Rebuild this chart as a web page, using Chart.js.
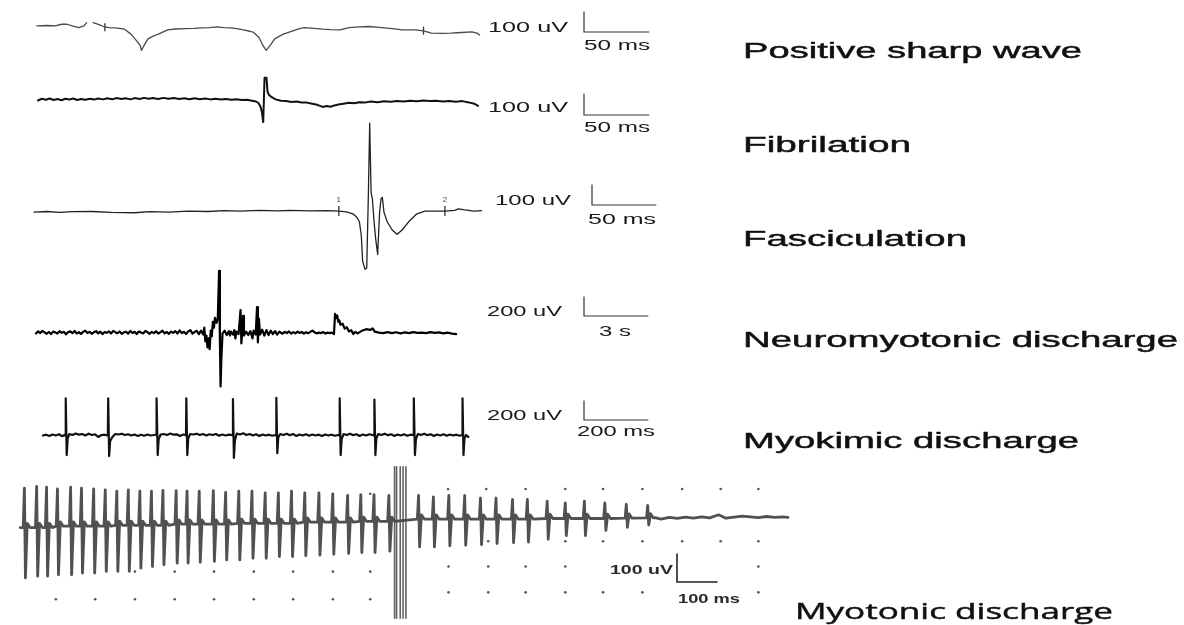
<!DOCTYPE html>
<html>
<head>
<meta charset="utf-8">
<script src="https://cdn.jsdelivr.net/npm/chart.js@4.4.1/dist/chart.umd.min.js"></script>
<style>
  html, body { margin: 0; padding: 0; background: #fff; }
  #wrap { width: 1184px; height: 625px; }
</style>
</head>
<body>
<div id="wrap"><canvas id="emg" width="1184" height="625"></canvas></div>
<script>
// ---- Data (time in ms unless noted, amplitude in uV) ----
const traceNames = ['Positive sharp wave', 'Fibrilation', 'Fasciculation',
  'Neuromyotonic discharge', 'Myokimic discharge', 'Myotonic discharge'];

// calibration bars: amplitude (uV) and time (ms, neuromyotonic in s)
const barAmp = [100, 100, 100, 200, 200, 100];
const barTime = [50, 50, 50, 3, 200, 100];
const barTimeText = ['50 ms', '50 ms', '50 ms', '3 s', '200 ms', '100 ms'];

// positive sharp wave, [ms, uV]
const pswTrace = [
  [0,0],[8,2],[14,0],[19,8],[23,8],[27,0],[32,-8],[36,0],[38,16],[40,null],
  [43,16],[48,5],[51,-3],[55,-8],[60,-10],[67,-16],[72,-40],[76,-70],[79,-95],[80,-119],
  [82,-95],[85,-63],[89,-50],[93,-40],[100,-19],[106,-15],[113,-13],[120,-12],[126,-10],
  [132,-8],[138,-5],[143,-8],[148,-10],[153,-13],[158,-19],[163,-26],[166,-32],[170,-56],
  [173,-95],[175.5,-119],[178.6,-95],[182,-63],[188.6,-40],[196,-24],[201,-13],[205,-8],
  [212,-12],[219,-16],[225,-18],[232,-19],[239,-8],[247,-5],[254,-3],[260,-6],[264,-8],
  [272,-13],[280,-19],[290,-19],[296,-24],[302,-35],[310,-36],[317,-35],[325,-32],
  [333,-29],[337,-35],[339,-44]
];
const pswMarks = [[52,-6],[296,-24]];

// fibrillation potential, [ms, uV]
const fibTrace = [
  [0,-5],[3,3],[6,-2],[9,4],[12,-3],[15,2],[18,-4],[21,3],[24,-1],[27,4],[30,-3],[33,2],
  [36,-2],[40,3],[43,-1],[46,4],[50,0],[53,5],[57,1],[60,6],[64,2],[67,5],[71,0],[74,6],
  [78,2],[81,7],[85,3],[88,6],[92,2],[96,7],[100,3],[104,6],[108,2],[112,5],[116,1],
  [120,5],[124,1],[128,4],[132,0],[136,3],[140,-1],[144,2],[148,-2],[152,1],[156,-3],
  [160,-2],[164,-6],[167,-10],[169,-18],[170.5,-35],[171.5,-60],[172.5,-105],[173.5,100],
  [175,100],[175.8,35],[177,20],[179,10],[182,0],[186,-6],[190,-8],[194,-12],[198,-10],
  [202,-14],[206,-15],[210,-20],[213,-24],[216,-30],[218,-35],[221,-31],[224,-34],
  [227,-28],[230,-24],[234,-20],[238,-16],[242,-18],[246,-13],[250,-15],[255,-10],
  [260,-13],[265,-9],[270,-11],[275,-7],[280,-10],[285,-6],[290,-9],[295,-5],[300,-8],
  [305,-6],[310,-10],[315,-7],[320,-11],[325,-8],[330,-14],[334,-20],[337,-30]
];

// fasciculation potential, [ms, uV]
const fascTrace = [
  [0,-5],[10,-2],[20,-6],[30,-3],[45,-2],[60,-6],[78,-8],[90,-3],[105,-5],[120,0],
  [135,-2],[148,2],[160,0],[175,3],[190,1],[199,3],[215,1],[228,2],[237,0],[243,-4],
  [248,-13],[251,-30],[253,-52],[254.5,-120],[255.5,-243],[257.4,-283],[258.7,-275],
  [260,90],[261,427],[262.1,90],[263.1,59],[264.4,-52],[265.6,-132],[267.2,-211],
  [268.7,-5],[269.8,59],[270.8,67],[272.1,-5],[274.6,-52],[278.5,-92],[282.3,-113],
  [286.2,-92],[291.3,-52],[297.7,-13],[304,0],[312,0],[319.5,0],[327,3],[330,11],
  [335,6],[342,0],[348,2]
];
const fascMarks = [[237,0],[319.5,0]];
const fascMarkText = ['1', '2'];

// neuromyotonic discharge, [s, uV]
const neuroTrace = [
  [0,-8],[0.1,12],[0.2,-5],[0.3,18],[0.4,3],[0.5,-12],[0.6,6],[0.7,-15],[0.8,10],[0.9,2],
  [1.0,-10],[1.1,14],[1.2,-3],[1.3,8],[1.4,-18],[1.5,5],[1.6,12],[1.7,-6],[1.8,16],[1.9,-9],
  [2.0,4],[2.1,-14],[2.2,9],[2.3,20],[2.4,-5],[2.5,7],[2.6,-12],[2.7,3],[2.8,15],[2.9,-8],
  [3.0,10],[3.1,-16],[3.2,6],[3.3,-2],[3.4,13],[3.5,-10],[3.6,18],[3.7,4],[3.8,-7],[3.9,11],
  [4.0,-13],[4.1,2],[4.2,9],[4.3,-11],[4.4,16],[4.5,-4],[4.6,8],[4.7,-15],[4.8,12],[4.9,0],
  [5.0,-9],[5.1,17],[5.2,5],[5.3,-12],[5.4,7],[5.5,-6],[5.6,14],[5.7,-10],[5.8,3],[5.9,19],
  [6.0,-8],[6.1,6],[6.2,-13],[6.3,10],[6.4,-3],[6.5,15],[6.6,-9],[6.7,22],[6.8,-5],[6.9,8],
  [7.0,-14],[7.1,12],[7.2,25],[7.3,-10],[7.4,6],[7.5,18],[7.6,-15],[7.7,20],
  [7.8,-20],[7.85,50],[7.9,-90],[7.95,-30],[8.0,-150],[8.05,-60],[8.1,-170],[8.15,20],
  [8.2,-40],[8.25,110],[8.3,50],[8.35,150],[8.42,100],[8.48,140],[8.54,630],[8.58,-100],
  [8.61,-550],[8.65,-250],[8.7,-10],[8.8,20],[8.9,-25],[9.0,15],[9.05,-30],[9.1,10],
  [9.2,-20],[9.25,25],[9.3,-60],[9.35,10],[9.45,-15],[9.54,230],[9.58,-110],[9.62,20],
  [9.66,170],[9.7,-30],[9.8,10],[9.9,-25],[10.0,15],[10.1,-60],[10.15,20],[10.25,-20],
  [10.31,260],[10.35,-100],[10.4,140],[10.45,-20],[10.55,30],[10.65,-30],[10.75,25],
  [10.85,-25],[10.95,20],[11.05,-15],[11.15,15],[11.25,-20],[11.35,10],[11.5,-12],
  [11.6,8],[11.7,-5],[11.8,12],[11.9,-10],[12.0,5],[12.1,-8],[12.2,10],[12.3,-4],
  [12.4,6],[12.5,-10],[12.6,3],[12.7,-6],[12.8,8],[12.9,20],[13.0,2],[13.1,-8],[13.2,0],
  [13.3,-5],[13.4,5],[13.5,-10],[13.6,0],[13.7,-5],[13.8,0],[13.9,-15],[13.95,190],
  [14.0,150],[14.05,175],[14.1,110],[14.15,125],[14.2,80],[14.3,90],[14.4,40],[14.5,55],
  [14.6,10],[14.7,25],[14.8,-15],[14.9,8],[15.0,-8],[15.1,5],[15.2,18],[15.4,35],[15.6,28],
  [15.7,42],[15.8,10],[16.0,0],[16.2,-5],[16.4,5],[16.6,-5],[16.8,3],[17.0,-8],[17.2,2],
  [17.4,-5],[17.6,5],[17.8,-3],[18.0,0],[18.2,-6],[18.4,4],[18.6,-3],[18.8,2],[19.0,-8],
  [19.2,0],[19.4,-10],[19.6,-15]
];

// myokymic discharge, [ms, uV]
const myokimicTrace = [
  [0,0],[10,8],[20,-5],[30,10],[40,0],[50,12],[60,-8],[67,5],
  [70,0],[71,380],[74,-200],[77,-30],[82,15],[92,5],[102,20],[112,8],[122,15],[132,0],
  [142,18],[152,5],[162,12],[172,-15],[182,5],[192,8],[200,0],
  [202,10],[203,380],[206,-210],[209,-60],[215,-20],[225,15],[235,10],[245,18],[255,5],
  [265,12],[275,0],[285,10],[295,-5],[305,8],[315,-3],[325,10],[335,0],[345,5],[352,10],
  [353,0],[354,380],[357,-200],[360,-40],[366,10],[376,15],[386,5],[396,20],[406,8],
  [416,12],[426,-5],[436,10],[444,5],
  [445,0],[446,380],[449,-200],[452,-30],[458,15],[468,10],[478,18],[488,5],[498,15],
  [508,0],[518,12],[528,5],[538,15],[548,-3],[558,10],[568,0],[578,8],[588,5],
  [590,0],[591,370],[594,-230],[597,-50],[603,20],[613,10],[623,22],[633,5],[643,15],
  [653,0],[663,12],[673,-5],[683,10],[693,0],[703,8],[713,-3],[723,5],
  [725,0],[726,385],[729,-180],[732,-20],[738,15],[748,5],[758,18],[768,3],[778,15],
  [788,-5],[798,10],[808,0],[818,12],[828,-3],[838,10],[848,0],[858,8],[868,-5],[878,10],
  [888,0],[898,8],[908,-3],[918,5],
  [922,0],[923,380],[926,-200],[929,-40],[935,15],[945,5],[955,18],[965,3],[975,12],
  [985,-5],[995,10],[1005,0],[1015,12],[1025,5],
  [1030,0],[1031,365],[1034,-200],[1037,-30],[1043,15],[1053,5],[1063,18],[1073,3],
  [1083,12],[1093,-5],[1103,10],[1113,0],[1123,12],[1133,-3],[1143,8],[1152,5],
  [1153,0],[1154,380],[1157,-200],[1160,-40],[1166,15],[1176,5],[1186,18],[1196,3],
  [1206,12],[1216,-5],[1226,10],[1236,0],[1246,12],[1256,-3],[1266,10],[1276,0],[1286,8],
  [1296,-3],[1303,5],
  [1304,0],[1305,380],[1308,-200],[1311,-30],[1316,5],[1323,-15]
];

// myotonic discharge spikes: [ms, baseline uV, peak uV, trough uV]
const myotonicSpikes = [
  [10.5,0,139,-177],[40.7,0,145,-171],[65.1,0,142,-171],[92,5,136,-166],[124.4,5,142,-166],
  [151.2,5,139,-160],[181.2,5,136,-160],[209.8,5,133,-154],[238.3,8,128,-154],
  [266.6,8,133,-154],[295.1,8,128,-143],[323.7,8,128,-137],[352,8,131,-131],
  [384.6,12,130,-125],[411.5,12,128,-125],[441.5,12,128,-122],[476.3,12,130,-119],
  [506.6,12,124,-114],[539,15,128,-114],[571.5,15,128,-108],[604.1,15,122,-108],
  [636.6,15,122,-102],[669,15,128,-102],[701.7,19,122,-99],[736.6,19,122,-97],
  [770.7,19,116,-94],[807.3,19,113,-91],[839.8,22,116,-88],[872.4,22,116,-88],
  [909,22,113,-83],[982.2,30,113,-68],[1018.8,30,108,-68],[1056.8,30,113,-64],
  [1095.9,30,113,-62],[1134.9,30,104,-60],[1173.2,30,104,-56],[1213.9,30,99,-53],
  [1250.5,30,99,-51],[1299.3,32,93,-41],[1343.9,32,87,-28],[1391,32,93,-28],
  [1441.5,32,87,-10],[1494.4,33,82,1],[1547.1,34,78,9]
];
const myotonicTail = [
  [1565,35],[1580,30],[1600,36],[1620,32],[1640,37],[1660,33],[1680,38],[1700,34],
  [1722,45],[1740,33],[1760,37],[1780,40],[1800,38],[1820,35],[1840,39],[1860,36],
  [1880,38],[1893,36]
];
// stimulus artefact lines, ms
const myotonicArtefact = [923, 928, 937, 944, 951];
const artefactSpan = [214, -321];
// paper grid dots on the myotonic record, [ms, uV]
const myotonicDots = [
  [88,-252],[185,-252],[283,-252],[381,-252],[478,-252],[576,-252],[673,-252],[771,-252],[863,-252],
  [283,-155],[381,-155],[478,-155],[576,-155],[673,-155],[771,-155],[863,-155],
  [771,119],[863,119],
  [1055,136],[1149,136],[1246,136],[1344,136],[1437,136],[1534,136],[1632,136],[1727,136],[1820,136],
  [1154,-48],[1344,-48],[1437,-48],[1534,-48],[1632,-48],[1727,-48],[1820,-48],
  [1056,-137],[1154,-137],[1246,-137],[1344,-137],[1820,-137],
  [1056,-228],[1154,-228],[1246,-228],[1344,-228],[1437,-228],[1534,-228],[1820,-228]
];

// ---- Layout (pixels) ----
const W = 1184, H = 625;
// origin of each record and pixels per unit
const traceLayout = [
  { x0: 31, y0: 20, kx: 1.32, ky: 0.21 },
  { x0: 32, y0: 95, kx: 1.32, ky: 0.22 },
  { x0: 28, y0: 209, kx: 1.30, ky: 0.21 },
  { x0: 30, y0: 333, kx: 21.67, ky: 0.10 },
  { x0: 37, y0: 438, kx: 0.325, ky: 0.10 },
  { x0: 14, y0: 532, kx: 0.41, ky: 0.29 }
];
// calibration bar corner, amp label (left, baseline, width), time label (left, baseline, width)
const barLayout = [
  { x: 584, y: 32, amp: [488, 32, 80], time: [584, 50, 66] },
  { x: 584, y: 115, amp: [488, 112, 80], time: [584, 132, 66] },
  { x: 592, y: 205, amp: [495, 205, 76], time: [588, 224, 68] },
  { x: 584, y: 316, amp: [487, 316, 75], time: [599, 336, 32] },
  { x: 584, y: 420, amp: [487, 420, 75], time: [577, 436, 78] },
  { x: 677, y: 582, amp: [610, 574, 63], time: [678, 603, 62] }
];
const titleLayout = [[743, 58, 339], [743, 152, 168], [743, 246, 224],
  [743, 347, 435], [743, 448, 336], [795, 619, 318]];

// ---- Build datasets ----
const pts = arr => arr.map(([x, y]) => ({ x, y }));

function myotonicPoints() {
  const out = [{ x: 0, y: 0 }];
  myotonicSpikes.forEach(([t, base, top, bottom]) => {
    out.push({ x: t - 3, y: base }, { x: t, y: top }, { x: t + 2.5, y: bottom },
      { x: t + 7, y: base + 15 }, { x: t + 14, y: base });
  });
  return out.concat(pts(myotonicTail));
}

function artefactPoints() {
  const out = [];
  myotonicArtefact.forEach(t => {
    out.push({ x: t, y: artefactSpan[0] }, { x: t, y: artefactSpan[1] }, { x: t + 0.5, y: null });
  });
  return out;
}

const scales = {};
traceLayout.forEach((l, i) => {
  scales['x' + i] = { type: 'linear', display: false, bounds: 'data',
    min: -l.x0 / l.kx, max: (W - l.x0) / l.kx };
  scales['y' + i] = { type: 'linear', display: false, bounds: 'data',
    min: -(H - l.y0) / l.ky, max: l.y0 / l.ky };
});

function trace(i, data, color, width) {
  return { data, xAxisID: 'x' + i, yAxisID: 'y' + i, borderColor: color,
    borderWidth: width, borderJoinStyle: 'round', borderCapStyle: 'round',
    pointRadius: 0, tension: 0, fill: false, spanGaps: false };
}
function marks(i, data, color, radius) {
  return { data, xAxisID: 'x' + i, yAxisID: 'y' + i, showLine: false,
    pointStyle: 'line', rotation: 90, pointRadius: radius, pointBorderWidth: 1.3,
    borderColor: color, pointBorderColor: color };
}

const datasets = [
  trace(0, pts(pswTrace), '#4a4a4a', 1.3),
  marks(0, pts(pswMarks), '#333', 4),
  trace(1, pts(fibTrace), '#111', 2),
  trace(2, pts(fascTrace), '#222', 1.3),
  marks(2, pts(fascMarks), '#333', 5),
  trace(3, pts(neuroTrace), '#000', 2.2),
  trace(4, pts(myokimicTrace), '#111', 2.2),
  trace(5, artefactPoints(), 'rgba(70,70,70,0.85)', 1.6),
  trace(5, myotonicPoints(), 'rgba(50,50,50,0.85)', 2.8),
  { data: pts(myotonicDots), xAxisID: 'x5', yAxisID: 'y5', showLine: false,
    pointRadius: 1.3, pointBorderWidth: 0, backgroundColor: '#555', pointBackgroundColor: '#555' }
];

// draw text squeezed/stretched to the width it has in the figure
function stretchText(ctx, text, x, y, width, font, color, heavy) {
  ctx.save();
  ctx.font = font;
  ctx.fillStyle = color;
  ctx.textBaseline = 'alphabetic';
  const w = ctx.measureText(text).width;
  ctx.translate(x, y);
  ctx.scale(width / w, 1);
  ctx.fillText(text, 0, 0);
  if (heavy) {
    ctx.strokeStyle = color;
    ctx.lineWidth = 0.45;
    ctx.strokeText(text, 0, 0);
  }
  ctx.restore();
}

const annotations = {
  id: 'emgAnnotations',
  afterDatasetsDraw(chart) {
    const ctx = chart.ctx;
    barLayout.forEach((b, i) => {
      const xs = chart.scales['x' + i], ys = chart.scales['y' + i];
      const lenX = Math.abs(xs.getPixelForValue(barTime[i]) - xs.getPixelForValue(0));
      const lenY = Math.abs(ys.getPixelForValue(barAmp[i]) - ys.getPixelForValue(0));
      ctx.save();
      ctx.strokeStyle = i === 5 ? '#222' : '#333';
      ctx.lineWidth = i === 5 ? 1.6 : 1.2;
      ctx.beginPath();
      ctx.moveTo(b.x, b.y - lenY);
      ctx.lineTo(b.x, b.y);
      ctx.lineTo(b.x + lenX, b.y);
      ctx.stroke();
      ctx.restore();
      const font = i === 5 ? 'bold 13px "Liberation Sans", Arial' : '14.5px "Liberation Sans", Arial';
      const col = i === 5 ? '#2a2a2a' : '#1a1a1a';
      stretchText(ctx, barAmp[i] + ' uV', b.amp[0], b.amp[1], b.amp[2], font, col, false);
      stretchText(ctx, barTimeText[i], b.time[0], b.time[1], b.time[2], font, col, false);
    });
    // numbered cursors on the fasciculation record
    fascMarks.forEach(([t, v], k) => {
      const x = chart.scales.x2.getPixelForValue(t);
      const y = chart.scales.y2.getPixelForValue(v);
      ctx.save();
      ctx.font = '8px "Liberation Sans", Arial';
      ctx.fillStyle = '#444';
      ctx.textAlign = 'center';
      ctx.fillText(fascMarkText[k], x, y - 9);
      ctx.restore();
    });
    traceNames.forEach((name, i) => {
      const [x, y, w] = titleLayout[i];
      const font = i === 5 ? '22px "Open Sans", "Liberation Sans"' : '22px "Liberation Sans", Arial';
      stretchText(ctx, name, x, y, w, font, '#111', true);
    });
  }
};

new Chart(document.getElementById('emg'), {
  type: 'line',
  data: { datasets },
  options: {
    responsive: false,
    maintainAspectRatio: false,
    devicePixelRatio: 1,
    animation: false,
    events: [],
    layout: { padding: 0 },
    scales,
    plugins: { legend: { display: false }, tooltip: { enabled: false }, title: { display: false } }
  },
  plugins: [annotations]
});
</script>
</body>
</html>
